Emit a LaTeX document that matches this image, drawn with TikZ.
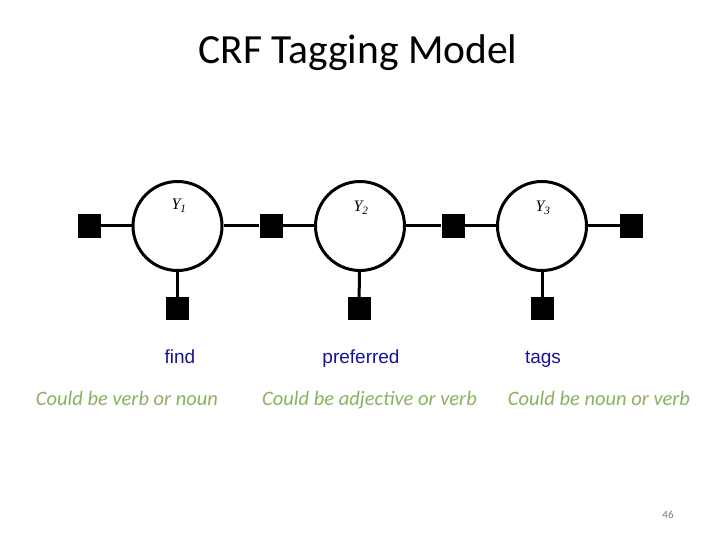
\documentclass[tikz,border=0pt]{standalone}
\usepackage{fontspec}
\setmainfont{Carlito}
\newfontfamily\arialf{Liberation Sans}
\newfontfamily\tnrf{Liberation Serif}
\definecolor{wordblue}{RGB}{20,20,150}
\definecolor{notegreen}{RGB}{140,176,96}
\definecolor{pagegray}{RGB}{120,120,120}
\begin{document}
\begin{tikzpicture}[x=1pt,y=-1pt,
  varnode/.style={circle,draw=black,line width=3pt,minimum size=89pt,inner sep=0pt},
  factor/.style={rectangle,fill=black,minimum size=23pt,inner sep=0pt},
  edge/.style={line width=3pt},
  ylab/.style={font=\tnrf\fontsize{16}{16}\selectfont\itshape,inner sep=0pt},
  word/.style={font=\arialf\fontsize{19}{22}\selectfont,text=wordblue,anchor=base,inner sep=0pt},
  note/.style={font=\fontsize{20.5}{24}\selectfont\itshape,text=notegreen,anchor=base,inner sep=0pt}]
\useasboundingbox (0,0) rectangle (720,540);
\node[font=\fontsize{41.5}{48}\selectfont,anchor=base,inner sep=0pt] (title) at (358,64) {CRF Tagging Model};
% variables
\node[varnode] (c1) at (177.5,226) {};
\node[varnode] (c2) at (360,226) {};
\node[varnode] (c3) at (542,226) {};
% chain factors
\node[factor] (f0) at (89,226) {};
\node[factor] (f1) at (271,226) {};
\node[factor] (f2) at (453,226) {};
\node[factor] (f3) at (631.5,226) {};
% observation factors
\node[factor] (b1) at (177.5,308.5) {};
\node[factor] (b2) at (359,308.5) {};
\node[factor] (b3) at (542,308.5) {};
% edges
\draw[edge] (f0) -- (c1);
\draw[edge] (c1) -- (f1);
\draw[edge] (f1) -- (c2);
\draw[edge] (c2) -- (f2);
\draw[edge] (f2) -- (c3);
\draw[edge] (c3) -- (f3);
\draw[edge] (c1) -- (b1);
\draw[edge] (c2) -- (b2);
\draw[edge] (c3) -- (b3);
% labels
\node[ylab] (y1) at (179,206) {Y\textsubscript{1}};
\node[ylab] (y2) at (361,208) {Y\textsubscript{2}};
\node[ylab] (y3) at (543,208) {Y\textsubscript{3}};
\node[word] (w1) at (180,363.5) {find};
\node[word] (w2) at (361,363.5) {preferred};
\node[word] (w3) at (543,363.5) {tags};
\node[note] (n1) at (127,405.5) {Could be verb or noun};
\node[note] (n2) at (369.5,405.5) {Could be adjective or verb};
\node[note] (n3) at (599,405.5) {Could be noun or verb};
\node[font=\fontsize{11}{12}\selectfont,text=pagegray,anchor=base,inner sep=0pt] (pg) at (668,518) {46};
\end{tikzpicture}
\end{document}
